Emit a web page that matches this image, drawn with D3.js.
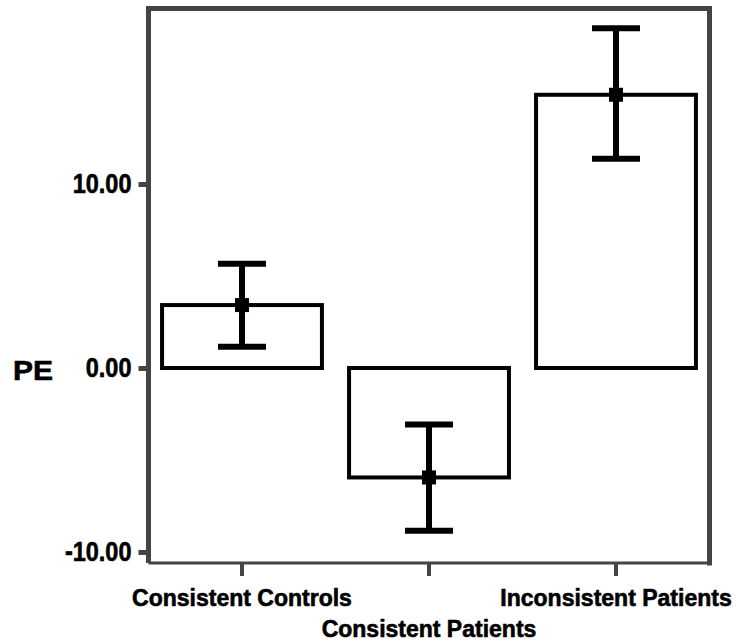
<!DOCTYPE html>
<html>
<head>
<meta charset="utf-8">
<script src="https://cdn.jsdelivr.net/npm/d3@7/dist/d3.min.js"></script>
<style>
  html, body { margin: 0; padding: 0; background: #fff; }
  svg { display: block; }
  text { font-family: "Liberation Sans", Arial, sans-serif; font-weight: bold; fill: #000; }
</style>
</head>
<body>
<svg id="chart" width="736" height="641"></svg>
<script>
// ---- data ----
const categories = ["Consistent Controls", "Consistent Patients", "Inconsistent Patients"];
const means = [3.42, -5.95, 14.85];
const upper = [5.67, -3.07, 18.46];
const lower = [1.16, -8.85, 11.37];
const yTicks = [-10, 0, 10];
const yLabel = "PE";

// ---- layout ----
const svg = d3.select("#chart");
const pLeft = 148.5, pRight = 709.5, pTop = 8.5, pBottom = 563;
const frameColor = "#444";

const x = d3.scaleBand().domain(categories).range([pLeft, pRight]).paddingInner(0.145).paddingOuter(0.0725);
const y = d3.scaleLinear().domain([-10.6, 19.54]).range([pBottom, pTop]);

// frame
svg.append("line").attr("x1", pLeft).attr("x2", pRight).attr("y1", pTop).attr("y2", pTop)
  .attr("stroke", frameColor).attr("stroke-width", 5).attr("stroke-linecap", "square");
svg.append("line").attr("x1", pRight).attr("x2", pRight).attr("y1", pTop).attr("y2", pBottom)
  .attr("stroke", frameColor).attr("stroke-width", 5).attr("stroke-linecap", "square");

const fmt = d => d3.format(".2f")(d).replace("\u2212", "-");

// y axis
const yAxis = svg.append("g").attr("transform", `translate(${pLeft},0)`)
  .call(d3.axisLeft(y).tickValues(yTicks).tickFormat(fmt).tickSize(10).tickPadding(7));
yAxis.select(".domain").attr("stroke", frameColor).attr("stroke-width", 5)
  .attr("d", `M0,${pTop}V${pBottom}`);
yAxis.selectAll(".tick line").attr("stroke", frameColor).attr("stroke-width", 5);
yAxis.selectAll(".tick text").attr("font-size", 27).attr("fill", "#000")
  .attr("stroke", "#000").attr("stroke-width", 0.6)
  .attr("font-family", "Liberation Sans, Arial, sans-serif").attr("font-weight", "bold")
  .each(function() {
    const w = this.getComputedTextLength();
    d3.select(this).attr("textLength", w * 0.87).attr("lengthAdjust", "spacingAndGlyphs");
  });

// x axis
const xAxis = svg.append("g").attr("transform", `translate(0,${pBottom})`)
  .call(d3.axisBottom(x).tickSize(13).tickPadding(0));
xAxis.select(".domain").attr("stroke", frameColor).attr("stroke-width", 3)
  .attr("d", `M${pLeft},0H${pRight}`);
xAxis.selectAll(".tick line").attr("stroke", frameColor).attr("stroke-width", 4);
xAxis.selectAll(".tick text").attr("font-size", 23).attr("fill", "#000")
  .attr("stroke", "#000").attr("stroke-width", 0.6)
  .attr("font-family", "Liberation Sans, Arial, sans-serif").attr("font-weight", "bold")
  .attr("dy", 0)
  .attr("y", (d, i) => i === 1 ? 74 : 43);

// y label
const pe = svg.append("text").attr("x", 13).attr("y", 370).attr("dy", "0.36em")
  .attr("font-size", 28).attr("stroke", "#000").attr("stroke-width", 0.6).text(yLabel);
pe.attr("textLength", 40).attr("lengthAdjust", "spacingAndGlyphs");

// bars
const data = categories.map((c, i) => ({ c, m: means[i], hi: upper[i], lo: lower[i] }));
svg.append("g").selectAll("rect").data(data).join("rect")
  .attr("x", d => x(d.c))
  .attr("width", x.bandwidth())
  .attr("y", d => Math.min(y(0), y(d.m)))
  .attr("height", d => Math.abs(y(0) - y(d.m)))
  .attr("fill", "#fff").attr("stroke", "#000").attr("stroke-width", 4);

// error bars
const eb = svg.append("g").selectAll("g").data(data).join("g")
  .attr("transform", d => `translate(${x(d.c) + x.bandwidth() / 2},0)`);
eb.append("line").attr("x1", 0).attr("x2", 0)
  .attr("y1", d => y(d.hi)).attr("y2", d => y(d.lo))
  .attr("stroke", "#000").attr("stroke-width", 6);
eb.append("line").attr("x1", -24).attr("x2", 24)
  .attr("y1", d => y(d.hi)).attr("y2", d => y(d.hi))
  .attr("stroke", "#000").attr("stroke-width", 6);
eb.append("line").attr("x1", -24).attr("x2", 24)
  .attr("y1", d => y(d.lo)).attr("y2", d => y(d.lo))
  .attr("stroke", "#000").attr("stroke-width", 6);
eb.append("rect").attr("x", -7).attr("width", 14)
  .attr("y", d => y(d.m) - 7).attr("height", 14)
  .attr("fill", "#000");
</script>
</body>
</html>
